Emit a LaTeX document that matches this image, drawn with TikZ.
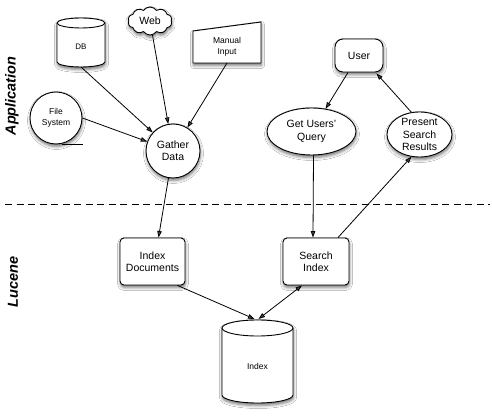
\documentclass[tikz,border=0pt]{standalone}
\usepackage{fontspec}
\setmainfont{Liberation Sans}
\usetikzlibrary{arrows.meta,shapes.geometric,shapes.symbols,calc,shadows.blur}
\begin{document}
\begin{tikzpicture}[x=1pt,y=1pt,
  shp/.style={draw, line width=0.9pt, fill=white,
    blur shadow={shadow xshift=0.5pt,shadow yshift=-2.5pt,shadow opacity=55,shadow blur radius=3pt}},
  big/.style={font=\fontsize{10.5}{12.5}\selectfont, align=center},
  small/.style={font=\fontsize{8.5}{11}\selectfont, align=center},
  lane/.style={rotate=90, font=\fontsize{14.5}{16}\selectfont\bfseries\itshape},
  arr/.style={-{Triangle[length=6.5pt,width=4.5pt]}, line width=0.8pt},
  darr/.style={{Triangle[length=6.5pt,width=4.5pt]}-{Triangle[length=6.5pt,width=4.5pt]}, line width=0.8pt},
  ghost/.style={inner sep=0, outer sep=0}]
\useasboundingbox (0,0) rectangle (492,417);
\fill[white] (0,0) rectangle (492,417);

% lane labels
\node[lane] (app) at (12,321) {Application};
\node[lane] (luc) at (13,135) {Lucene};

% separator
\draw[line width=0.8pt, dash pattern=on 7pt off 4.5pt] (5,213) -- (490,213);

% DB cylinder
\draw[shp] (57,394) -- (57,355) arc[start angle=180,end angle=360,x radius=24pt,y radius=5pt]
  -- (105,394) arc[start angle=0,end angle=180,x radius=24pt,y radius=5pt] -- cycle;
\draw[line width=0.9pt] (57,394) arc[start angle=180,end angle=360,x radius=24pt,y radius=5pt];
\node[ghost, minimum width=48pt, minimum height=49pt] (db) at (81,374.5) {};
\node[font=\fontsize{8}{10}\selectfont] (dbt) at (81,370) {DB};

% Web cloud
\node[shp, cloud, cloud puffs=10, cloud puff arc=110, cloud ignores aspect,
  minimum width=44pt, minimum height=28pt, inner sep=0, big] (web) at (150,396) {Web};

% Manual input
\draw[shp] (193,386) -- (261,395) -- (261,354) -- (193,354) -- cycle;
\node[ghost, minimum width=68pt, minimum height=41pt] (manual) at (227,374.5) {};
\node[small] (mant) at (227,370) {Manual\\Input};

% File system
\node[shp, circle, minimum size=52pt, inner sep=0, small] (fs) at (56,299) {File\\System};
\draw[line width=0.9pt] ($(fs.south)+(6,0)$) -- ++(21,0);

% Gather data
\node[shp, circle, minimum size=54pt, inner sep=0, big] (gather) at (173,266) {Gather\\Data};

% User side
\node[shp, rounded corners=8pt, minimum width=48pt, minimum height=33pt, big] (user) at (359,361.5) {User};
\node[shp, ellipse, minimum width=89pt, minimum height=47pt, inner sep=0, big] (guq) at (311.5,285.5) {Get Users'\\Query};
\node[shp, ellipse, minimum width=65pt, minimum height=45pt, inner sep=-4pt, big] (pres) at (419.5,282.5) {Present\\Search\\Results};

% Lucene boxes
\node[shp, rounded corners=4pt, minimum width=65pt, minimum height=47pt, big] (idocs) at (152.5,155.5) {Index\\Documents};
\node[shp, rounded corners=4pt, minimum width=66pt, minimum height=47pt, big] (si) at (316,155.5) {Search\\Index};

% Index cylinder
\draw[shp] (222,89) -- (222,22) arc[start angle=180,end angle=360,x radius=35.5pt,y radius=8pt]
  -- (293,89) arc[start angle=0,end angle=180,x radius=35.5pt,y radius=8pt] -- cycle;
\draw[line width=0.9pt] (222,89) arc[start angle=180,end angle=360,x radius=35.5pt,y radius=8pt];
\node[ghost, minimum width=71pt, minimum height=83pt] (idx) at (257.5,55.5) {};
\node[small] (idxt) at (257.5,51) {Index};

% connectors
\draw[arr] (db.south) -- (gather);
\draw[arr] (web) -- (gather);
\draw[arr] (manual.south) -- (gather);
\draw[arr] (fs.east) -- (gather);
\draw[arr] (gather) -- ($(idocs.north)+(6,0)$);
\draw[arr] ($(user.south)+(-11,0)$) -- (guq);
\draw[arr] (pres.110) -- ($(user.south east)+(-7,-1)$);
\draw[arr] ($(guq.south)+(2,0)$) -- ($(si.north)+(-3,0)$);
\draw[arr] ($(si.north)+(22,0)$) -- (pres.250);
\draw[arr] ($(idocs.south)+(25,0)$) -- ($(idx.north)+(-3,1)$);
\draw[darr] ($(si.south)+(-14,0)$) -- ($(idx.north)+(1,1)$);
\end{tikzpicture}
\end{document}
